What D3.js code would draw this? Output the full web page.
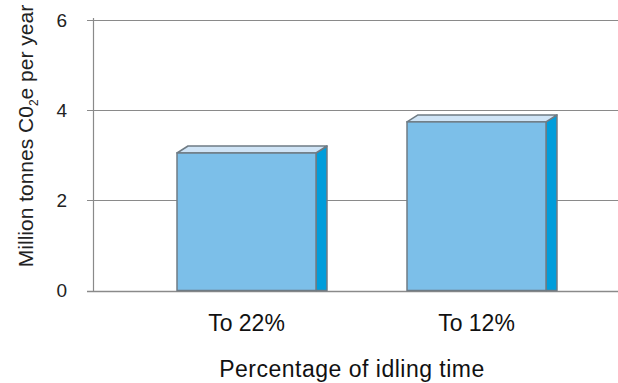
<!DOCTYPE html>
<html>
<head>
<meta charset="utf-8">
<script src="https://cdn.jsdelivr.net/npm/d3@7/dist/d3.min.js"></script>
<style>
  html, body { margin: 0; padding: 0; background: #fff; }
  svg { display: block; font-family: "Liberation Sans", Arial, Helvetica, sans-serif; }
</style>
</head>
<body>
<svg id="chart" width="618" height="383"></svg>
<script>
// Annual emissions saved by cutting idling time
const categories = ["To 22%", "To 12%"];
const values = [3.05, 3.74];
const yTicks = [0, 2, 4, 6];
const xTitle = "Percentage of idling time";

const svg = d3.select("#chart");

const y = d3.scaleLinear().domain([0, 6]).range([290.5, 20]);
const x = d3.scaleBand()
  .domain(categories)
  .range([131.5, 591.5])
  .paddingInner(0.3957)
  .paddingOuter(0.19785);

const depthX = 11, depthY = 7;
const gridColor = "#8a8a8a";

// horizontal gridlines with short tick stubs on the left
svg.append("g").selectAll("line")
  .data(yTicks)
  .join("line")
  .attr("x1", 87).attr("x2", 618)
  .attr("y1", d => Math.round(y(d)) + 0.5)
  .attr("y2", d => Math.round(y(d)) + 0.5)
  .attr("stroke", gridColor)
  .attr("stroke-width", d => d === 0 ? 1.6 : 1);

// vertical axis line
svg.append("line")
  .attr("x1", 93.5).attr("x2", 93.5)
  .attr("y1", 18).attr("y2", Math.round(y(0)) + 0.5)
  .attr("stroke", gridColor).attr("stroke-width", 1.2);

// tick labels
svg.append("g").selectAll("text")
  .data(yTicks)
  .join("text")
  .attr("x", 67)
  .attr("y", d => y(d))
  .attr("dy", "0.36em")
  .attr("text-anchor", "end")
  .attr("font-size", 19)
  .attr("fill", "#222")
  .text(d => d);

// y title with subscript
const yt = svg.append("text")
  .attr("transform", "translate(33,136) rotate(-90)")
  .attr("text-anchor", "middle")
  .attr("font-size", 21)
  .attr("fill", "#222");
yt.append("tspan").text("Million tonnes C0");
yt.append("tspan").attr("font-size", 12).attr("dy", 5).text("2");
yt.append("tspan").attr("dy", -5).text("e per year");

// 3D-style bars: side face, top face, front face
const stroke = "#6f7b84";
const bars = svg.append("g").selectAll("g")
  .data(categories.map((c, i) => ({ c, v: values[i] })))
  .join("g");

bars.append("path")
  .attr("d", d => {
    const x0 = x(d.c) + x.bandwidth(), yt = y(d.v), yb = y(0);
    return `M${x0},${yt} L${x0 + depthX},${yt - depthY} L${x0 + depthX},${yb} L${x0},${yb} Z`;
  })
  .attr("fill", "#009ddb")
  .attr("stroke", stroke).attr("stroke-width", 1.5).attr("stroke-linejoin", "round");

bars.append("path")
  .attr("d", d => {
    const x0 = x(d.c), x1 = x0 + x.bandwidth(), yt = y(d.v);
    return `M${x0},${yt} L${x0 + depthX},${yt - depthY} L${x1 + depthX},${yt - depthY} L${x1},${yt} Z`;
  })
  .attr("fill", "#cfe4f6")
  .attr("stroke", stroke).attr("stroke-width", 1.5).attr("stroke-linejoin", "round");

bars.append("rect")
  .attr("x", d => x(d.c))
  .attr("y", d => y(d.v))
  .attr("width", x.bandwidth())
  .attr("height", d => y(0) - y(d.v))
  .attr("fill", "#7cbfe9")
  .attr("stroke", stroke).attr("stroke-width", 1.5);

// category labels
svg.append("g").selectAll("text")
  .data(categories)
  .join("text")
  .attr("x", d => x(d) + x.bandwidth() / 2)
  .attr("y", 331)
  .attr("text-anchor", "middle")
  .attr("font-size", 23)
  .attr("fill", "#111")
  .text(d => d);

// x title
svg.append("text")
  .attr("x", 352)
  .attr("y", 377)
  .attr("text-anchor", "middle")
  .attr("font-size", 23)
  .attr("letter-spacing", 0.5)
  .attr("fill", "#111")
  .text(xTitle);
</script>
</body>
</html>
